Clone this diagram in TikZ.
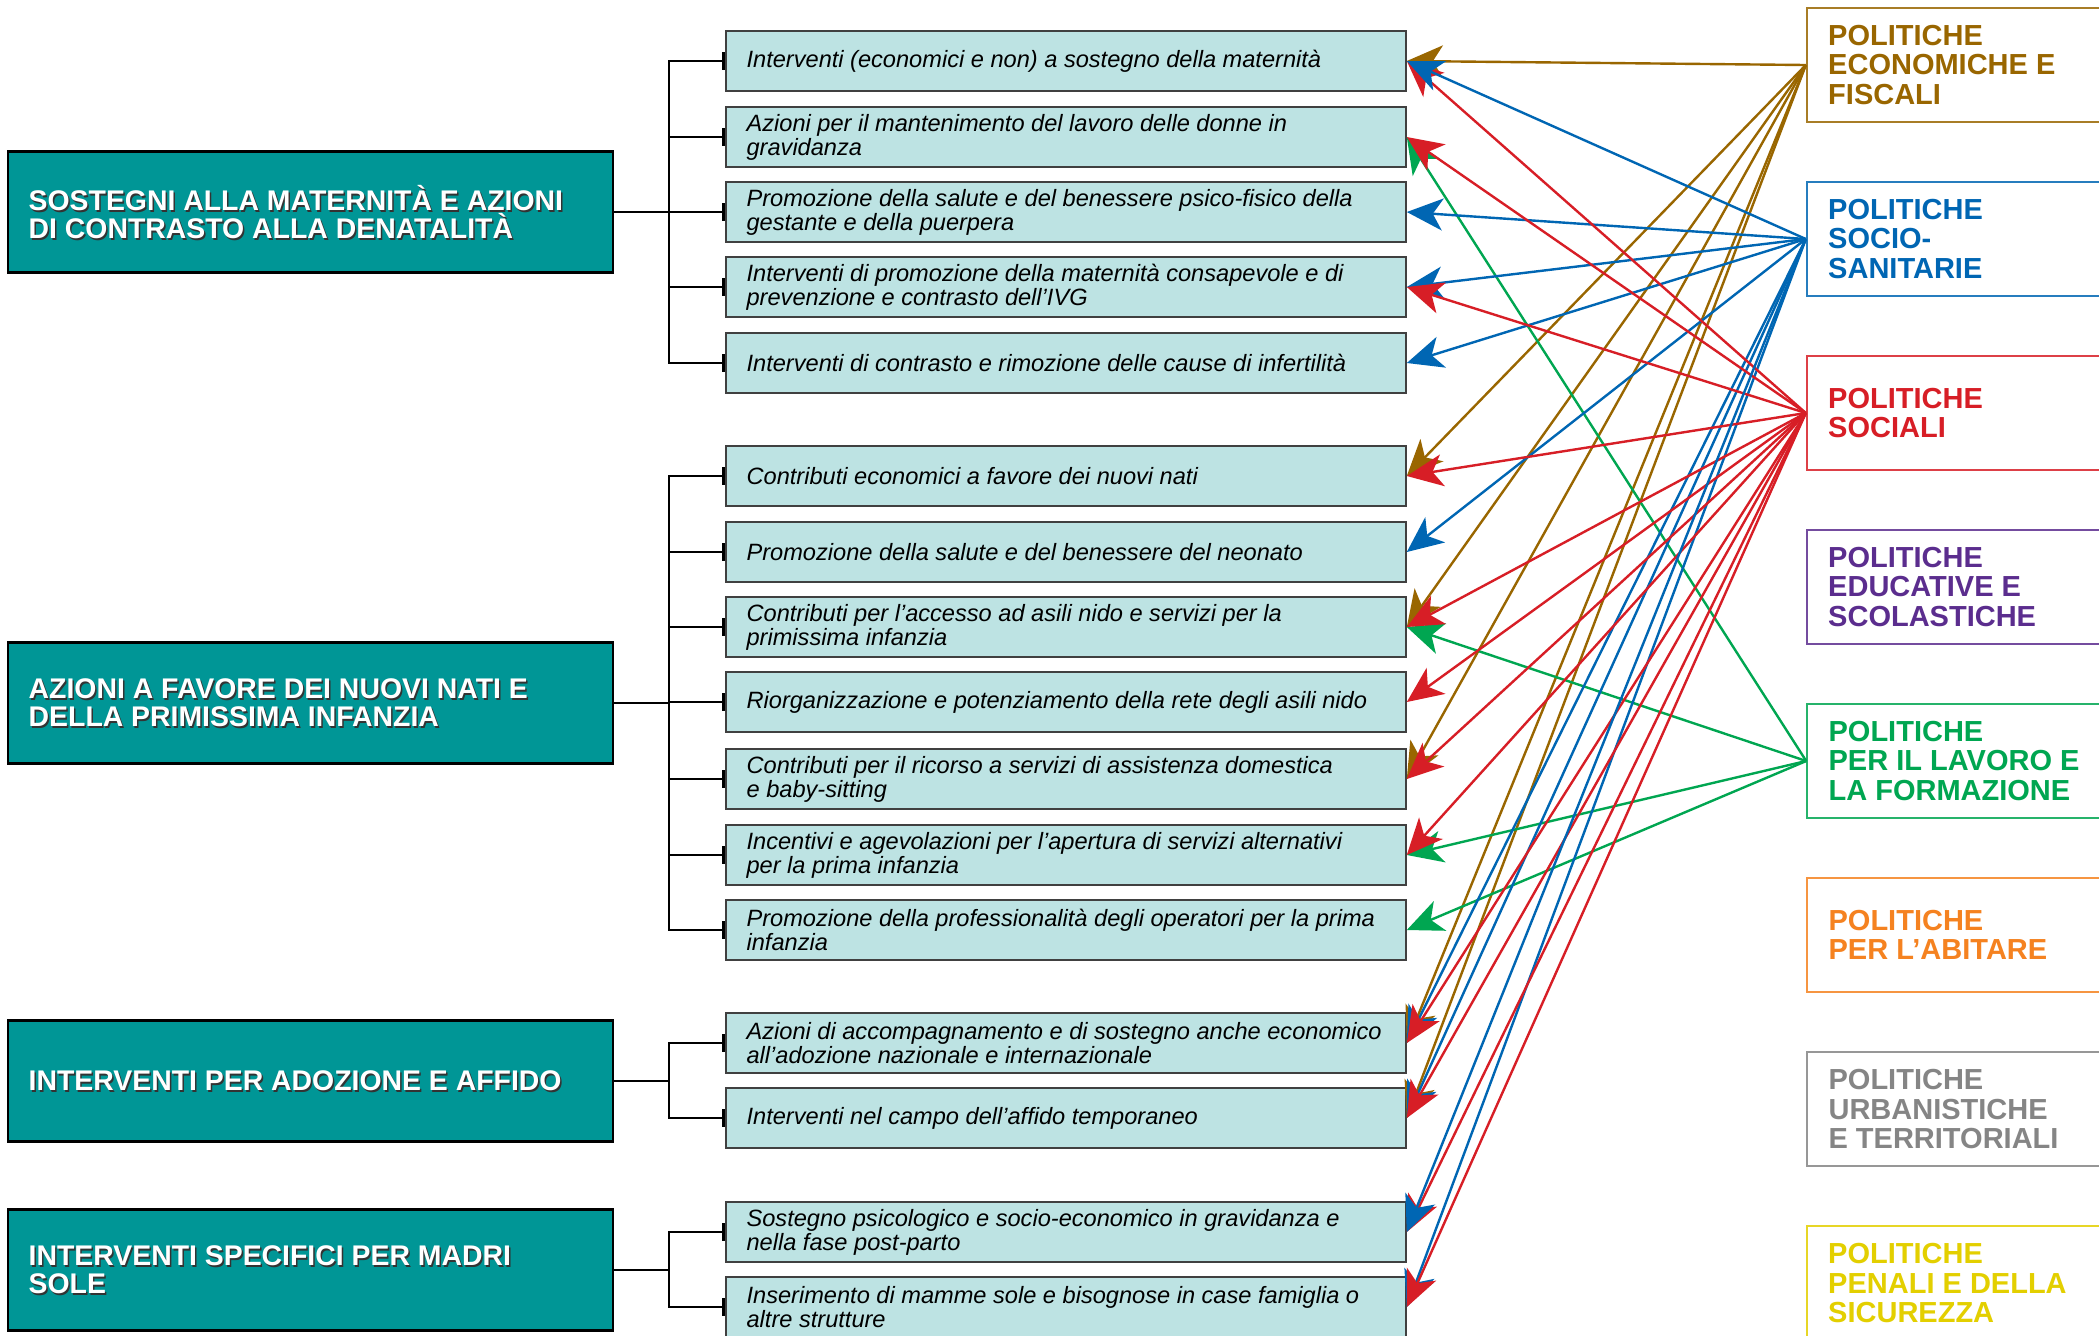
\documentclass[tikz,border=0pt]{standalone}
\usepackage{fontspec}
\setmainfont{Liberation Sans}
\usetikzlibrary{arrows.meta}
\definecolor{grpfill}{HTML}{009696}
\definecolor{actfill}{HTML}{BDE3E3}
\definecolor{brn}{HTML}{996600}
\definecolor{blu}{HTML}{0066B3}
\definecolor{rd}{HTML}{D71E26}
\definecolor{prp}{HTML}{5B2D8E}
\definecolor{grn}{HTML}{00A651}
\definecolor{org}{HTML}{F58220}
\definecolor{gry}{HTML}{858585}
\definecolor{ylw}{HTML}{E3CF00}
\tikzset{
  grpbox/.style={draw=black,line width=1.2pt,fill=grpfill,minimum width=302.5pt,minimum height=60.5pt,inner sep=0pt},
  grptext/.style={anchor=west,align=left,inner sep=0pt,font=\fontsize{14.2}{14}\selectfont\bfseries},
  actbox/.style={draw=black!75,line width=0.8pt,fill=actfill,minimum width=340pt,minimum height=30pt,inner sep=0pt},
  acttext/.style={anchor=west,align=left,inner sep=0pt,font=\fontsize{11.8}{12}\selectfont\itshape},
  polbox/.style={fill=white,minimum width=200pt,minimum height=57pt,inner sep=0pt},
  poltext/.style={anchor=west,align=left,inner sep=0pt,font=\fontsize{14.5}{14.7}\selectfont\bfseries},
  trunk/.style={line width=1.4pt},
  tree/.style={trunk,-{Bar[width=9pt]}},
  link/.style={line width=1.2pt,-{Stealth[length=18pt,width=16pt,inset=5pt]}}
}

\begin{document}
\begin{tikzpicture}[x=0.5pt,y=-0.5pt]
\useasboundingbox (0,0) rectangle (2099,1335);
% groups
\foreach \i/\y/\txt in {1/212/{SOSTEGNI ALLA MATERNITÀ E AZIONI\\DI CONTRASTO ALLA DENATALITÀ},
    2/703/{AZIONI A FAVORE DEI NUOVI NATI E\\DELLA PRIMISSIMA INFANZIA},
    3/1081/{INTERVENTI PER ADOZIONE E AFFIDO},
    4/1270/{INTERVENTI SPECIFICI PER MADRI\\SOLE}} {
  \node[grpbox] (g\i) at (310.5,\y) {};
  \node[grptext,text=black!80] (g\i s) at ([shift={(11.5pt,-0.8pt)}]g\i.west) {\txt};
  \node[grptext,text=white] (g\i t) at ([xshift=10.75pt]g\i.west) {\txt};
}
% actions
\foreach \i/\y/\txt in {1/61/{Interventi (economici e non) a sostegno della maternità},
    2/137/{Azioni per il mantenimento del lavoro delle donne in\\gravidanza},
    3/212/{Promozione della salute e del benessere psico-fisico della\\gestante e della puerpera},
    4/287/{Interventi di promozione della maternità consapevole e di\\prevenzione e contrasto dell’IVG},
    5/363/{Interventi di contrasto e rimozione delle cause di infertilità},
    6/476/{Contributi economici a favore dei nuovi nati},
    7/552/{Promozione della salute e del benessere del neonato},
    8/627/{Contributi per l’accesso ad asili nido e servizi per la\\primissima infanzia},
    9/702/{Riorganizzazione e potenziamento della rete degli asili nido},
    10/779/{Contributi per il ricorso a servizi di assistenza domestica\\e baby-sitting},
    11/855/{Incentivi e agevolazioni per l’apertura di servizi alternativi\\per la prima infanzia},
    12/930/{Promozione della professionalità degli operatori per la prima\\infanzia},
    13/1043/{Azioni di accompagnamento e di sostegno anche economico\\all’adozione nazionale e internazionale},
    14/1118/{Interventi nel campo dell’affido temporaneo},
    15/1232/{Sostegno psicologico e socio-economico in gravidanza e\\nella fase post-parto},
    16/1307/{Inserimento di mamme sole e bisognose in case famiglia o\\altre strutture}} {
  \node[actbox] (m\i) at (1066,\y) {};
  \node[acttext] (m\i t) at ([xshift=10.5pt]m\i.west) {\txt};
}
% policies
\foreach \i/\y/\c/\w/\txt in {1/65/brn/1.2pt/{POLITICHE\\ECONOMICHE E\\FISCALI},
    2/239/blu/1.2pt/{POLITICHE\\SOCIO-\\SANITARIE},
    3/413/rd/1.2pt/{POLITICHE\\SOCIALI},
    4/587/prp/1.2pt/{POLITICHE\\EDUCATIVE E\\SCOLASTICHE},
    5/761/grn/0.8pt/{POLITICHE\\PER IL LAVORO E\\LA FORMAZIONE},
    6/935/org/0.8pt/{POLITICHE\\PER L’ABITARE},
    7/1109/gry/0.8pt/{POLITICHE\\URBANISTICHE\\E TERRITORIALI},
    8/1283/ylw/1.2pt/{POLITICHE\\PENALI E DELLA\\SICUREZZA}} {
  \node[polbox,draw=\c!85,line width=\w] (p\i) at (2007,\y) {};
  \node[poltext,text=\c] (p\i t) at ([xshift=11pt]p\i.west) {\txt};
}
% tree
\coordinate (t1) at (669,212);
\coordinate (t2) at (669,703);
\coordinate (t3) at (669,1081);
\coordinate (t4) at (669,1270);
\foreach \g in {1,...,4} \draw[trunk] (g\g.east) -- (t\g);
\foreach \i in {1,...,5} \draw[tree] (t1) |- (m\i.west);
\foreach \i in {6,...,12} \draw[tree] (t2) |- (m\i.west);
\foreach \i in {13,14} \draw[tree] (t3) |- (m\i.west);
\foreach \i in {15,16} \draw[tree] (t4) |- (m\i.west);
% links
\foreach \t in {1,6,8,10,13,14} \draw[link,brn] (p1.west) -- (m\t.east);
\foreach \t in {2,8,11,12} \draw[link,grn] (p5.west) -- (m\t.east);
\foreach \t in {3,4,5,7,13,14,16} \draw[link,blu] (p2.west) -- (m\t.east);
\foreach \t in {1,2,4,6,8,9,10,11,13,14,15,16} \draw[link,rd] (p3.west) -- (m\t.east);
\foreach \t in {1,15} \draw[link,blu] (p2.west) -- (m\t.east);
\end{tikzpicture}
\end{document}
